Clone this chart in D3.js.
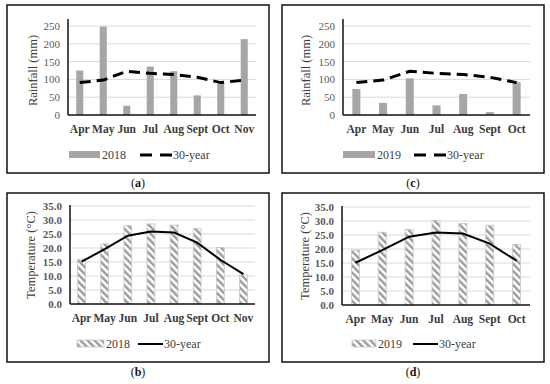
<!DOCTYPE html>
<html>
<head>
<meta charset="utf-8">
<script src="https://cdn.jsdelivr.net/npm/d3@7"></script>
<style>
  body { margin: 0; background: #fff; }
  svg { display: block; font-family: "Liberation Serif", "DejaVu Serif", serif; }
</style>
</head>
<body>
<svg width="550" height="384"></svg>
<script>
// data
var months2018 = ["Apr", "May", "Jun", "Jul", "Aug", "Sept", "Oct", "Nov"];
var months2019 = ["Apr", "May", "Jun", "Jul", "Aug", "Sept", "Oct"];
var rain2018 = [125, 248, 26, 136, 123, 55, 89, 213];
var rain2019 = [73, 34, 103, 27, 59, 8, 92];
var rain30yr = [91, 98, 123, 117, 114, 106, 91, 98];
var temp2018 = [16.0, 21.5, 28.0, 28.6, 28.2, 27.0, 20.2, 10.4];
var temp2019 = [19.6, 26.0, 27.0, 30.2, 29.1, 28.5, 21.6];
var temp30yr = [15.1, 19.6, 24.4, 25.9, 25.5, 21.9, 15.8, 10.7];
var rainTicks = [0, 50, 100, 150, 200, 250];
var tempTicks = [0, 5, 10, 15, 20, 25, 30, 35];

var svg = d3.select("svg");

// diagonal hatch for the temperature bars
var defs = svg.append("defs");
var pat = defs.append("pattern")
    .attr("id", "hatch")
    .attr("patternUnits", "userSpaceOnUse")
    .attr("width", 5).attr("height", 5)
    .attr("patternTransform", "rotate(-45)");
pat.append("rect").attr("width", 5).attr("height", 5).attr("fill", "#fff");
pat.append("rect").attr("width", 2.4).attr("height", 5).attr("fill", "#9a9a9a");

function drawPanel(p) {
    var g = svg.append("g");

    g.append("rect")
        .attr("x", p.frame[0]).attr("y", p.frame[1])
        .attr("width", p.frame[2] - p.frame[0]).attr("height", p.frame[3] - p.frame[1])
        .attr("fill", "none").attr("stroke", "#111").attr("stroke-width", 1.5);

    var x = d3.scaleBand().domain(p.cats).range([p.x0, p.x1]);
    var y = d3.scaleLinear().domain([0, p.max]).range([p.y0, p.yTop]);

    // gridlines
    g.selectAll(".grid").data(p.ticks.slice(1)).enter().append("line")
        .attr("x1", p.x0).attr("x2", p.x1)
        .attr("y1", function (d) { return y(d); }).attr("y2", function (d) { return y(d); })
        .attr("stroke", "#d9d9d9").attr("stroke-width", 1);

    // tick labels
    g.selectAll(".tl").data(p.ticks).enter().append("text")
        .attr("x", p.x0 - 8)
        .attr("y", function (d) { return y(d) + 4; })
        .attr("text-anchor", "end")
        .attr("font-size", 11)
        .attr("font-weight", p.bold ? "bold" : "normal")
        .attr("fill", "#595959")
        .text(function (d) { return p.fmt(d); });

    // bars
    var bw = x.bandwidth() * p.barFrac;
    g.selectAll(".bar").data(p.bars).enter().append("rect")
        .attr("x", function (d, i) { return x(p.cats[i]) + (x.bandwidth() - bw) / 2; })
        .attr("y", function (d) { return y(d); })
        .attr("width", bw)
        .attr("height", function (d) { return p.y0 - y(d); })
        .attr("fill", p.hatch ? "url(#hatch)" : "#a6a6a6")
        .attr("stroke", p.hatch ? "#c8c8c8" : "none")
        .attr("stroke-width", 0.8);

    // axes
    g.append("line")
        .attr("x1", p.x0).attr("x2", p.x0)
        .attr("y1", p.y0).attr("y2", y(p.max) - p.axisExtra)
        .attr("stroke", "#111").attr("stroke-width", 1.5);
    g.append("line")
        .attr("x1", p.x0).attr("x2", p.x1)
        .attr("y1", p.y0).attr("y2", p.y0)
        .attr("stroke", "#111").attr("stroke-width", 1.5);

    // 30-year line
    var line = d3.line()
        .x(function (d, i) { return x(p.cats[i]) + x.bandwidth() / 2; })
        .y(function (d) { return y(d); });
    g.append("path")
        .datum(p.line.slice(0, p.cats.length))
        .attr("d", line)
        .attr("fill", "none")
        .attr("stroke", "#000")
        .attr("stroke-width", p.dashed ? 3 : 2)
        .attr("stroke-dasharray", p.dashed ? "11,6" : null);

    // category labels
    g.selectAll(".cl").data(p.cats).enter().append("text")
        .attr("x", function (d) { return x(d) + x.bandwidth() / 2; })
        .attr("y", p.y0 + 18)
        .attr("text-anchor", "middle")
        .attr("font-size", 11.5)
        .attr("font-weight", "bold")
        .attr("fill", "#3a3a3a")
        .text(function (d) { return d; });

    // y title
    g.append("text")
        .attr("transform", "translate(" + p.titleX + "," + ((p.y0 + y(p.max)) / 2) + ") rotate(-90)")
        .attr("text-anchor", "middle")
        .attr("font-size", 12.5)
        .attr("fill", "#404040")
        .text(p.title);

    // legend
    var L = p.legend;
    g.append("rect")
        .attr("x", L.sx).attr("y", L.y - 4).attr("width", L.sw).attr("height", 7)
        .attr("fill", p.hatch ? "url(#hatch)" : "#a6a6a6")
        .attr("stroke", p.hatch ? "#c8c8c8" : "none").attr("stroke-width", 0.8);
    g.append("text")
        .attr("x", L.sx + L.sw + 2).attr("y", L.y + 4)
        .attr("font-size", 12).attr("fill", "#404040")
        .text(p.year);
    g.append("line")
        .attr("x1", L.lx).attr("x2", L.lx + L.lw)
        .attr("y1", L.y).attr("y2", L.y)
        .attr("stroke", "#000")
        .attr("stroke-width", p.dashed ? 3 : 2)
        .attr("stroke-dasharray", p.dashed ? "12,8" : null);
    g.append("text")
        .attr("x", L.lx + L.lw + 1).attr("y", L.y + 4)
        .attr("font-size", 12).attr("fill", "#404040")
        .text("30-year");

    // caption
    g.append("text")
        .attr("x", (p.frame[0] + p.frame[2]) / 2).attr("y", p.frame[3] + 14)
        .attr("text-anchor", "middle")
        .attr("font-size", 12).attr("fill", "#111")
        .html("(<tspan font-weight='bold'>" + p.caption + "</tspan>)");
}

var fmtInt = d3.format("d");
var fmt1 = d3.format(".1f");

drawPanel({
    frame: [7, 5, 269, 173], cats: months2018, bars: rain2018, line: rain30yr,
    max: 250, ticks: rainTicks, fmt: fmtInt, x0: 68, x1: 256, y0: 115, yTop: 26,
    axisExtra: 7, barFrac: 0.3, hatch: false, dashed: true, bold: false,
    title: "Rainfall (mm)", titleX: 37, year: "2018", caption: "a",
    legend: { sx: 69, sw: 31, lx: 140, lw: 32, y: 155 }
});
drawPanel({
    frame: [282, 5, 544, 173], cats: months2019, bars: rain2019, line: rain30yr,
    max: 250, ticks: rainTicks, fmt: fmtInt, x0: 343, x1: 530, y0: 115, yTop: 26,
    axisExtra: 7, barFrac: 0.3, hatch: false, dashed: true, bold: false,
    title: "Rainfall (mm)", titleX: 310, year: "2019", caption: "c",
    legend: { sx: 343, sw: 32, lx: 414, lw: 32, y: 155 }
});
drawPanel({
    frame: [7, 193, 269, 362], cats: months2018, bars: temp2018, line: temp30yr,
    max: 35, ticks: tempTicks, fmt: fmt1, x0: 70, x1: 255, y0: 304, yTop: 206,
    axisExtra: 1, barFrac: 0.34, hatch: true, dashed: false, bold: true,
    title: "Temperature (°C)", titleX: 35, year: "2018", caption: "b",
    legend: { sx: 77, sw: 27, lx: 138, lw: 25, y: 344 }
});
drawPanel({
    frame: [282, 193, 544, 362], cats: months2019, bars: temp2019, line: temp30yr,
    max: 35, ticks: tempTicks, fmt: fmt1, x0: 342, x1: 530, y0: 305, yTop: 207,
    axisExtra: 1, barFrac: 0.3, hatch: true, dashed: false, bold: true,
    title: "Temperature (°C)", titleX: 309, year: "2019", caption: "d",
    legend: { sx: 352, sw: 24, lx: 413, lw: 25, y: 344 }
});
</script>
</body>
</html>
